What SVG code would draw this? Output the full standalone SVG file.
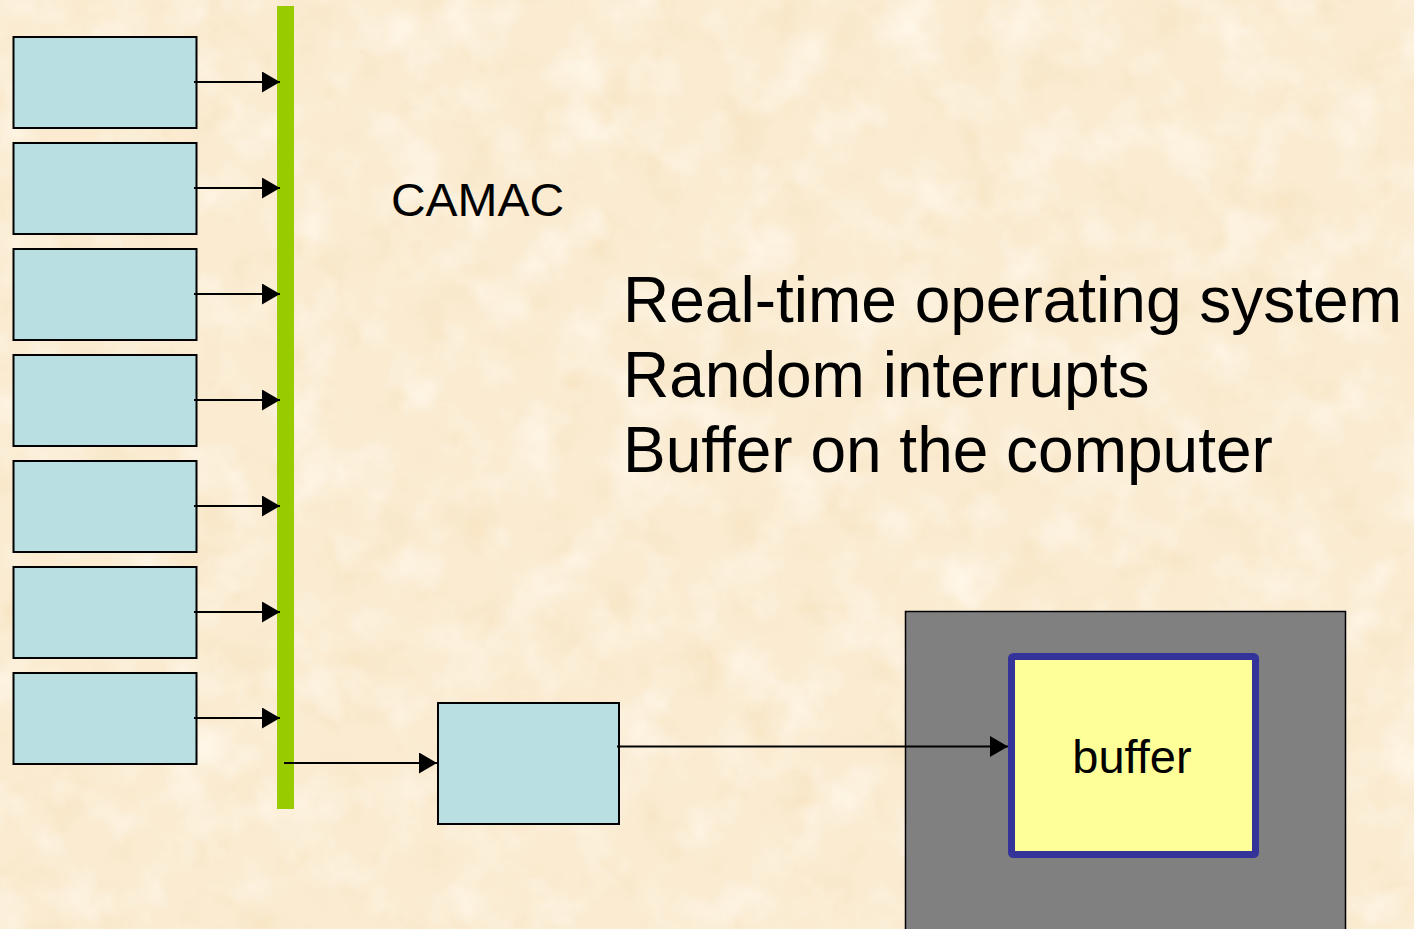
<svg xmlns="http://www.w3.org/2000/svg" width="1414" height="929" viewBox="0 0 1414 929">
  <defs>
    <style>
      .txt { font-family: "Liberation Sans", Arial, sans-serif; fill: #000; }
      .module { fill: #B9DFE2; stroke: #000; stroke-width: 2; }
      .wire { stroke: #000; stroke-width: 2; fill: none; marker-end: url(#head); }
    </style>
    <marker id="head" markerUnits="userSpaceOnUse" markerWidth="18" markerHeight="22" refX="18" refY="10.5" orient="auto">
      <path d="M0,0 L18,10.5 L0,21 Z" fill="#000"/>
    </marker>
    <!-- mottled parchment background -->
    <filter id="paperLight" x="0" y="0" width="100%" height="100%" color-interpolation-filters="sRGB">
      <feTurbulence type="fractalNoise" baseFrequency="0.018" numOctaves="4" seed="7"/>
      <feColorMatrix type="matrix" values="0 0 0 0 1  0 0 0 0 0.975  0 0 0 0 0.925  1.8 0 0 0 -0.8"/>
    </filter>
    <filter id="paperDark" x="0" y="0" width="100%" height="100%" color-interpolation-filters="sRGB">
      <feTurbulence type="fractalNoise" baseFrequency="0.022" numOctaves="3" seed="21"/>
      <feColorMatrix type="matrix" values="0 0 0 0 0.965  0 0 0 0 0.875  0 0 0 0 0.72  0 1.2 0 0 -0.62"/>
    </filter>
  </defs>

  <!-- background -->
  <rect x="0" y="0" width="1414" height="929" fill="#FAEBD1"/>
  <rect x="0" y="0" width="1414" height="929" filter="url(#paperDark)"/>
  <rect x="0" y="0" width="1414" height="929" filter="url(#paperLight)"/>

  <!-- CAMAC modules -->
  <g id="module-1"><rect class="module" x="13.5" y="37" width="183" height="91"/></g>
  <g id="module-2"><rect class="module" x="13.5" y="143" width="183" height="91"/></g>
  <g id="module-3"><rect class="module" x="13.5" y="249" width="183" height="91"/></g>
  <g id="module-4"><rect class="module" x="13.5" y="355" width="183" height="91"/></g>
  <g id="module-5"><rect class="module" x="13.5" y="461" width="183" height="91"/></g>
  <g id="module-6"><rect class="module" x="13.5" y="567" width="183" height="91"/></g>
  <g id="module-7"><rect class="module" x="13.5" y="673" width="183" height="91"/></g>

  <!-- dataway bus -->
  <g id="bus"><rect x="277" y="6" width="17" height="803" fill="#99CC00"/></g>

  <!-- controller -->
  <g id="controller"><rect class="module" x="438" y="703" width="181" height="121"/></g>

  <!-- computer with buffer -->
  <g id="computer">
    <rect x="905.5" y="611.5" width="440" height="330" fill="#808080" stroke="#000" stroke-width="1.5"/>
  </g>
  <g id="buffer">
    <rect x="1011.5" y="656.5" width="244" height="198" rx="2" fill="#FFFF99" stroke="#333399" stroke-width="7"/>
    <text class="txt" x="1132" y="773" font-size="47" text-anchor="middle">buffer</text>
  </g>

  <!-- labels -->
  <g id="label-camac">
    <text class="txt" x="391" y="215.5" font-size="47" textLength="173" lengthAdjust="spacingAndGlyphs">CAMAC</text>
  </g>
  <g id="notes">
    <text class="txt" x="623" y="321.5" font-size="64">Real-time operating system</text>
    <text class="txt" x="623" y="396.5" font-size="64">Random interrupts</text>
    <text class="txt" x="623" y="471.5" font-size="64">Buffer on the computer</text>
  </g>

  <!-- connectors -->
  <g id="connectors">
    <line class="wire" x1="194" y1="82" x2="280" y2="82"/>
    <line class="wire" x1="194" y1="188" x2="280" y2="188"/>
    <line class="wire" x1="194" y1="294" x2="280" y2="294"/>
    <line class="wire" x1="194" y1="400" x2="280" y2="400"/>
    <line class="wire" x1="194" y1="506" x2="280" y2="506"/>
    <line class="wire" x1="194" y1="612" x2="280" y2="612"/>
    <line class="wire" x1="194" y1="718" x2="280" y2="718"/>
    <line class="wire" x1="284" y1="763" x2="437" y2="763"/>
    <line class="wire" x1="617" y1="746.5" x2="1008" y2="746.5"/>
  </g>
</svg>
